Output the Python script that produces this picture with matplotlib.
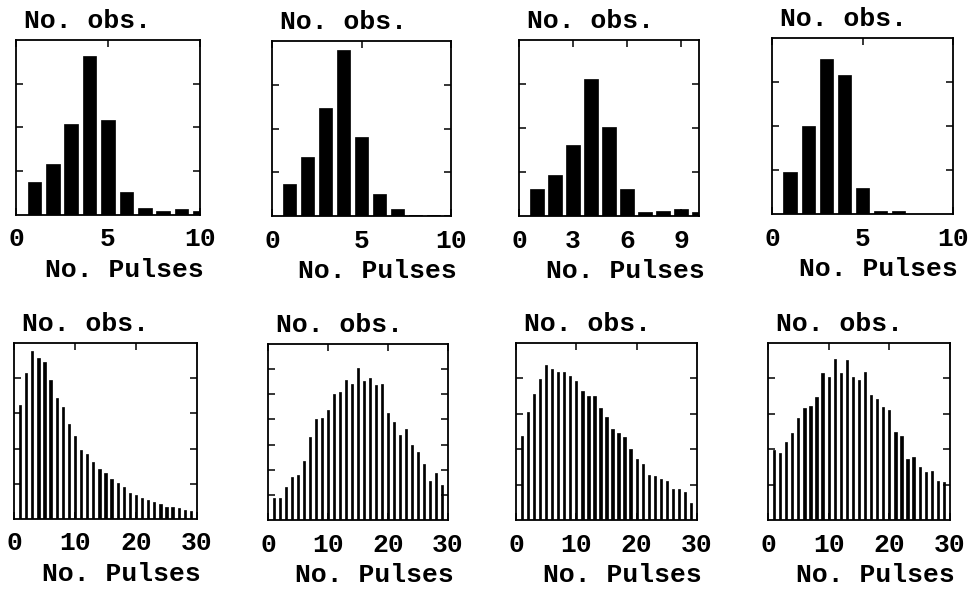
import matplotlib.pyplot as plt

# small pulse counts (top row)
pulses_small = [1, 2, 3, 4, 5, 6, 7, 8, 9, 10]
obs_a = [0.76, 1.17, 2.08, 3.64, 2.16, 0.52, 0.15, 0.10, 0.13, 0.10]
obs_b = [0.74, 1.34, 2.48, 3.79, 1.81, 0.50, 0.17, 0.02, 0.02, 0.02]
obs_c = [0.62, 0.93, 1.62, 3.11, 2.02, 0.62, 0.10, 0.12, 0.17, 0.10]
obs_d = [0.95, 2.00, 3.52, 3.17, 0.59, 0.07, 0.06, 0.01, 0.01, 0.01]

# large pulse counts (bottom row)
pulses_large = list(range(1, 30))
obs_e = [3.25, 4.14, 4.76, 4.58, 4.45, 3.95, 3.44, 3.18, 2.69, 2.37,
         1.95, 1.86, 1.62, 1.43, 1.31, 1.13, 1.03, 0.92, 0.75, 0.68,
         0.61, 0.54, 0.47, 0.42, 0.35, 0.35, 0.32, 0.25, 0.24]
obs_f = [0.87, 0.87, 1.33, 1.73, 1.80, 2.33, 3.29, 4.00, 4.07, 4.36,
         5.00, 5.11, 5.57, 5.40, 6.03, 5.51, 5.63, 5.37, 5.40, 4.27,
         3.91, 3.37, 3.63, 3.00, 2.71, 2.24, 1.57, 1.87, 1.40]
obs_g = [2.36, 3.04, 3.56, 3.98, 4.38, 4.27, 4.19, 4.18, 4.08, 3.93,
         3.63, 3.51, 3.49, 3.16, 2.91, 2.58, 2.47, 2.35, 2.00, 1.72,
         1.58, 1.27, 1.23, 1.16, 1.11, 0.87, 0.87, 0.78, 0.47]
obs_h = [1.98, 1.89, 2.20, 2.46, 2.88, 3.16, 3.21, 3.47, 4.15, 4.03,
         4.56, 4.15, 4.52, 4.05, 3.95, 4.18, 3.54, 3.42, 3.19, 3.11,
         2.48, 2.36, 1.73, 1.79, 1.49, 1.35, 1.39, 1.10, 1.08]

xticks_small = [0, 5, 10]
xticks_odd = [0, 3, 6, 9]
xticks_large = [0, 10, 20, 30]

FONT = dict(family='Liberation Mono', fontweight='bold', fontsize=19)
W, H = 977, 590

# axes boxes in pixels: left, top, width, height
boxes = [(16, 40, 184, 175), (272, 41, 179, 175), (519, 40, 180, 176), (772, 38, 181, 176),
         (14, 343, 183, 176), (268, 344, 180, 176), (516, 343, 181, 177), (768, 343, 182, 177)]

panels = [
    (pulses_small, obs_a, 10, 4, xticks_small, 0.73),
    (pulses_small, obs_b, 10, 4, xticks_small, 0.73),
    (pulses_small, obs_c, 10, 4, xticks_odd, 0.73),
    (pulses_small, obs_d, 10, 4, xticks_small, 0.73),
    (pulses_large, obs_e, 30, 5, xticks_large, 0.38),
    (pulses_large, obs_f, 30, 7, xticks_large, 0.38),
    (pulses_large, obs_g, 30, 5, xticks_large, 0.38),
    (pulses_large, obs_h, 30, 5, xticks_large, 0.38),
]

fig = plt.figure(figsize=(W / 100, H / 100), dpi=100)

for (left, top, w, h), (x, y, xmax, ymax, xt, bw) in zip(boxes, panels):
    ax = fig.add_axes([left / W, 1 - (top + h) / H, w / W, h / H])
    ax.bar(x, y, width=bw, color='black', edgecolor='black', linewidth=0.5)
    ax.set_xlim(0, xmax)
    ax.set_ylim(0, ymax)
    ax.set_xticks(xt)
    ax.set_xticklabels([str(t) for t in xt], **FONT)
    ax.set_yticks(range(1, ymax))
    ax.set_yticklabels([])
    ax.tick_params(direction='in', top=True, right=True, left=True, bottom=True,
                   length=5, width=1.1, pad=9)
    for s in ax.spines.values():
        s.set_linewidth(1.3)
    ax.text(8 / w, 1 + 12 / h, 'No. obs.', transform=ax.transAxes,
            ha='left', va='baseline', **FONT)
    ax.text(0.5 + 16 / w, -62 / h, 'No. Pulses', transform=ax.transAxes,
            ha='center', va='baseline', **FONT)

fig.savefig('out.png', dpi=100)
